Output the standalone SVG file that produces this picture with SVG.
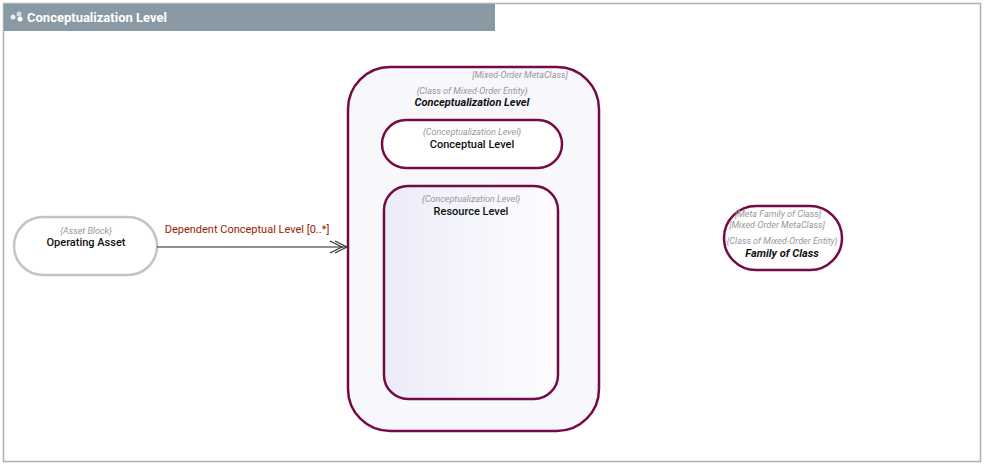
<svg xmlns="http://www.w3.org/2000/svg" width="984" height="464" viewBox="0 0 984 464">
<defs>
<style>
text{font-family:Roboto,"Liberation Sans",sans-serif;text-anchor:middle}
.st{font-size:9px;font-style:italic;fill:#999}
.nm{font-size:11px;font-weight:500;fill:#111}
.nmi{font-size:11px;font-weight:bold;font-style:italic;fill:#111}
</style>
<linearGradient id="g" x1="0" x2="1"><stop offset="0" stop-color="#ECECF9"/><stop offset="1" stop-color="#FDFDFF"/></linearGradient>
<marker id="ar" markerWidth="20" markerHeight="14" refX="18" refY="7" orient="auto" markerUnits="userSpaceOnUse"><path d="M6,1 L18,7 L6,13 M1,1 L13,7 L1,13" fill="none" stroke="#333" stroke-width="1.2"/></marker>
</defs>
<rect x="0" y="0" width="984" height="464" fill="#fff"/>
<rect x="3.5" y="3.5" width="977" height="458" fill="#fff" stroke="#A8B0B8" stroke-width="1.5"/>
<g id="frame-title"><rect x="4" y="4" width="491" height="27" fill="#8A9AA4"/>
<circle cx="13" cy="17" r="2.5" fill="#eee"/><circle cx="19" cy="14" r="2.5" fill="#ddd"/><circle cx="20" cy="19" r="2.5" fill="#fff"/>
<text x="27" y="22" style="text-anchor:start;font-size:13px;font-weight:bold;fill:#fff">Conceptualization Level</text></g>
<g id="conceptualization-level"><rect x="348" y="67" width="251" height="364" rx="42" fill="#F7F7FC" stroke="#740B46" stroke-width="2.5"/>
<text x="520" y="78" class="st">[Mixed-Order MetaClass]</text>
<text x="472" y="94" class="st">{Class of Mixed-Order Entity}</text>
<text x="472" y="106" class="nmi">Conceptualization Level</text></g>
<g id="conceptual-level"><rect x="382" y="120" width="180" height="48" rx="24" fill="#fff" stroke="#740B46" stroke-width="2.5"/>
<text x="472" y="135" class="st">{Conceptualization Level}</text>
<text x="472" y="148" class="nm">Conceptual Level</text></g>
<g id="resource-level"><rect x="384" y="186" width="174" height="213" rx="24" fill="url(#g)" stroke="#740B46" stroke-width="2.5"/>
<text x="471" y="202" class="st">{Conceptualization Level}</text>
<text x="471" y="215" class="nm">Resource Level</text></g>
<g id="operating-asset"><rect x="14" y="217" width="143" height="58" rx="29" fill="#fff" stroke="#C4C4C4" stroke-width="2.5"/>
<text x="86" y="234" class="st">{Asset Block}</text>
<text x="86" y="246" class="nm">Operating Asset</text></g>
<g id="family-of-class"><rect x="724" y="206" width="118" height="64" rx="32" fill="#fff" stroke="#740B46" stroke-width="2.5"/>
<text x="778" y="217" class="st">[Meta Family of Class]</text>
<text x="777" y="228" class="st">[Mixed-Order MetaClass]</text>
<text x="782" y="244" class="st">{Class of Mixed-Order Entity}</text>
<text x="782" y="257" class="nmi">Family of Class</text></g>
<g id="connectors"><line x1="157" y1="247" x2="347" y2="247" stroke="#222" stroke-width="1" marker-end="url(#ar)"/>
<text x="247" y="233" style="font-size:11px;fill:#9A2200">Dependent Conceptual Level [0..*]</text></g>
</svg>
